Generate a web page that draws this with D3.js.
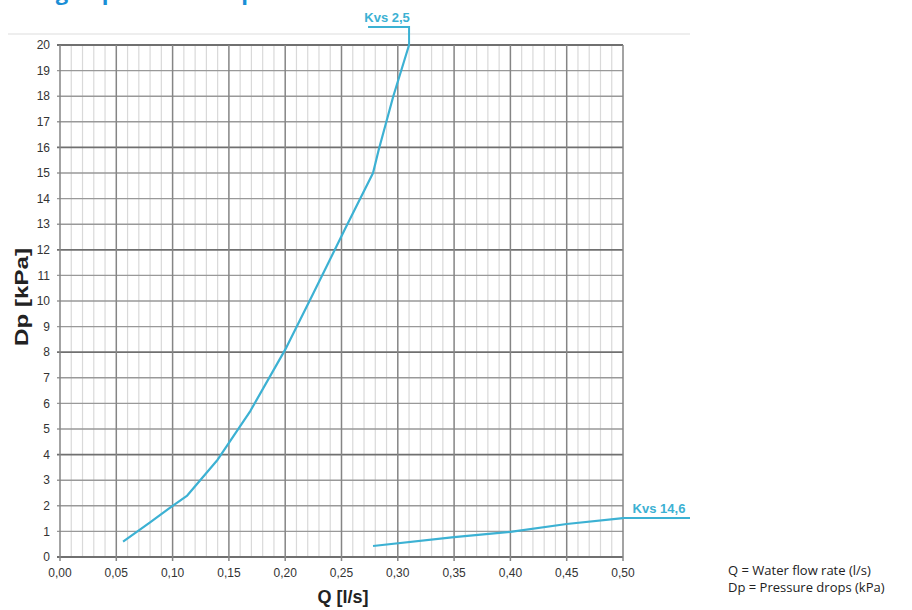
<!DOCTYPE html>
<html>
<head>
<meta charset="utf-8">
<script src="https://cdn.jsdelivr.net/npm/d3@7"></script>
<style>
  body { margin: 0; background: #fff; }
  svg { display: block; }
</style>
</head>
<body>
<script>
// values
var qTicks = [0, 0.05, 0.1, 0.15, 0.2, 0.25, 0.3, 0.35, 0.4, 0.45, 0.5];
var dpTicks = d3.range(0, 21);

var kvs25Q = [0.056, 0.08, 0.1, 0.113, 0.14, 0.169, 0.2, 0.225, 0.253, 0.278, 0.283, 0.296, 0.31];
var kvs25Dp = [0.6, 1.35, 2.0, 2.4, 3.8, 5.7, 8.1, 10.3, 12.8, 15.0, 15.9, 18.0, 20.0];

var kvs146Q = [0.278, 0.35, 0.4, 0.45, 0.5];
var kvs146Dp = [0.43, 0.78, 0.98, 1.29, 1.52];

var margin = { top: 45, right: 289, bottom: 53, left: 60 },
  width = 912 - margin.left - margin.right,
  height = 610 - margin.top - margin.bottom;

var curveColor = "#3cb1d3";
var sans = "'Liberation Sans', Arial, sans-serif";

var svg = d3
  .select("body")
  .append("svg")
  .attr("width", 912)
  .attr("height", 610);

// title, cut off at the top edge of the picture
svg
  .append("text")
  .attr("x", 5)
  .attr("y", 0)
  .style("font-family", "'Open Sans', sans-serif")
  .style("font-weight", "bold")
  .style("font-size", "22px")
  .style("fill", "#1a8fd6")
  .text("Sizing of pressure drops");

// faint band above the plot
svg
  .append("line")
  .attr("x1", 8)
  .attr("x2", 690)
  .attr("y1", 34)
  .attr("y2", 34)
  .style("stroke", "#eeeeee")
  .style("stroke-width", 2);

var g = svg
  .append("g")
  .attr("transform", "translate(" + margin.left + "," + margin.top + ")");

var x = d3.scaleLinear().domain([0, 0.5]).range([0, width]);
var y = d3.scaleLinear().domain([0, 20]).range([height, 0]);

// minor vertical grid every 0.01
var minor = d3.range(0, 51).map(function (d) { return d / 100; });
g.selectAll(".minor")
  .data(minor.filter(function (d, i) { return i % 5 !== 0; }))
  .enter()
  .append("line")
  .attr("class", "minor")
  .attr("x1", function (d) { return x(d); })
  .attr("x2", function (d) { return x(d); })
  .attr("y1", 0)
  .attr("y2", height)
  .style("stroke", "#d9d9d9")
  .style("stroke-width", 1.2);

// horizontal grid
g.selectAll(".hgrid")
  .data(dpTicks)
  .enter()
  .append("line")
  .attr("class", "hgrid")
  .attr("x1", -3)
  .attr("x2", width)
  .attr("y1", function (d) { return y(d); })
  .attr("y2", function (d) { return y(d); })
  .style("stroke", function (d) { return d % 4 === 0 ? "#707070" : "#999"; })
  .style("stroke-width", function (d) { return d % 4 === 0 ? 1.8 : 1.4; });

// major vertical grid
g.selectAll(".vgrid")
  .data(qTicks)
  .enter()
  .append("line")
  .attr("class", "vgrid")
  .attr("x1", function (d) { return x(d); })
  .attr("x2", function (d) { return x(d); })
  .attr("y1", 0)
  .attr("y2", height + 4)
  .style("stroke", "#858585")
  .style("stroke-width", 1.5);

// tick labels
var fmt = function (d) { return d3.format(".2f")(d).replace(".", ","); };

g.selectAll(".xlab")
  .data(qTicks)
  .enter()
  .append("text")
  .attr("class", "xlab")
  .attr("x", function (d) { return x(d); })
  .attr("y", height + 20)
  .style("text-anchor", "middle")
  .style("font-family", sans)
  .style("font-size", "12px")
  .style("fill", "#333")
  .text(fmt);

g.selectAll(".ylab")
  .data(dpTicks)
  .enter()
  .append("text")
  .attr("class", "ylab")
  .attr("x", -10)
  .attr("y", function (d) { return y(d); })
  .attr("dy", "0.35em")
  .style("text-anchor", "end")
  .style("font-family", sans)
  .style("font-size", "12px")
  .style("fill", "#333")
  .text(function (d) { return d; });

// curves
var line = d3
  .line()
  .x(function (d) { return x(d[0]); })
  .y(function (d) { return y(d[1]); });

g.append("path")
  .datum(d3.zip(kvs25Q, kvs25Dp))
  .attr("d", line)
  .style("fill", "none")
  .style("stroke", curveColor)
  .style("stroke-width", 2.2)
  .style("stroke-linejoin", "round");

g.append("path")
  .datum(d3.zip(kvs146Q, kvs146Dp))
  .attr("d", line)
  .style("fill", "none")
  .style("stroke", curveColor)
  .style("stroke-width", 2.2)
  .style("stroke-linejoin", "round");

// labels with leader lines
var end25 = [x(kvs25Q[kvs25Q.length - 1]), y(kvs25Dp[kvs25Dp.length - 1])];
g.append("path")
  .attr("d", "M" + end25[0] + "," + end25[1] + "V" + (end25[1] - 18) + "H" + (end25[0] - 41))
  .style("fill", "none")
  .style("stroke", curveColor)
  .style("stroke-width", 2);

g.append("text")
  .attr("x", end25[0] - 22)
  .attr("y", end25[1] - 23)
  .style("text-anchor", "middle")
  .style("font-family", sans)
  .style("font-weight", "bold")
  .style("font-size", "13px")
  .style("fill", curveColor)
  .text("Kvs 2,5");

var end146 = [x(kvs146Q[kvs146Q.length - 1]), y(kvs146Dp[kvs146Dp.length - 1])];
g.append("line")
  .attr("x1", end146[0])
  .attr("x2", end146[0] + 67)
  .attr("y1", end146[1])
  .attr("y2", end146[1])
  .style("stroke", curveColor)
  .style("stroke-width", 2);

g.append("text")
  .attr("x", end146[0] + 36)
  .attr("y", end146[1] - 5)
  .style("text-anchor", "middle")
  .style("font-family", sans)
  .style("font-weight", "bold")
  .style("font-size", "13px")
  .style("fill", curveColor)
  .text("Kvs 14,6");

// axis titles
g.append("text")
  .attr("x", 283)
  .attr("y", height + 46)
  .style("text-anchor", "middle")
  .style("font-family", sans)
  .style("font-weight", "bold")
  .style("font-size", "18px")
  .style("fill", "#222")
  .text("Q [l/s]");

g.append("text")
  .attr("transform", "rotate(-90)")
  .attr("x", -(297 - margin.top))
  .attr("y", -32)
  .attr("textLength", 98)
  .attr("lengthAdjust", "spacingAndGlyphs")
  .style("text-anchor", "middle")
  .style("font-family", sans)
  .style("font-weight", "bold")
  .style("font-size", "19px")
  .style("fill", "#222")
  .text("Dp [kPa]");

// note on the right
svg
  .append("text")
  .attr("x", 728)
  .attr("y", 575)
  .style("font-family", "'Open Sans', sans-serif")
  .style("font-size", "13px")
  .style("fill", "#222")
  .text("Q = Water flow rate (l/s)");

svg
  .append("text")
  .attr("x", 728)
  .attr("y", 592)
  .style("font-family", "'Open Sans', sans-serif")
  .style("font-size", "13px")
  .style("fill", "#222")
  .text("Dp = Pressure drops (kPa)");
</script>
</body>
</html>
